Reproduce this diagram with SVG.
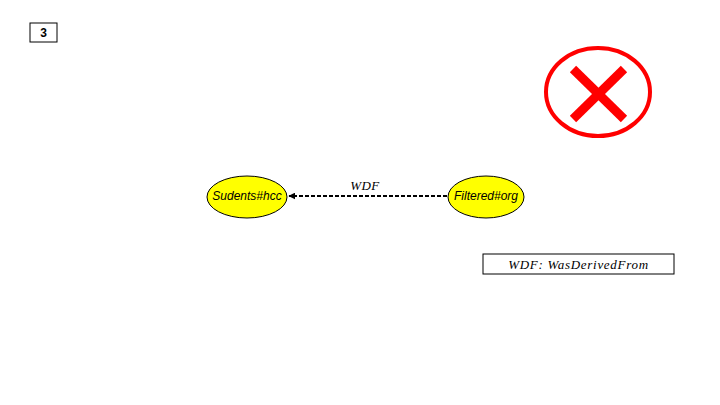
<svg xmlns="http://www.w3.org/2000/svg" width="720" height="405" viewBox="0 0 720 405">
  <defs>
    <marker id="arrow" viewBox="0 0 10 10" refX="9" refY="5" markerWidth="3.5" markerHeight="3.5" orient="auto">
      <path d="M0,0 L10,5 L0,10 z" fill="#000"/>
    </marker>
    <style>
      .node { fill: #ffff00; stroke: #000; stroke-width: 1; }
      .nodeText { font-family: "Liberation Sans", Arial, sans-serif; font-style: italic; font-size: 12px; fill: #000; text-anchor: middle; dominant-baseline: central; }
      .math { font-family: "Liberation Serif", "DejaVu Serif", serif; font-style: italic; font-size: 13px; fill: #000; text-anchor: middle; }
      .edge { stroke: #000; stroke-width: 2; stroke-dasharray: 4 2; fill: none; }
    </style>
  </defs>
  <rect width="720" height="405" fill="#fff"/>

  <!-- slide number -->
  <g id="slide-number">
    <rect x="30" y="23" width="27" height="19" fill="#fff" stroke="#000" stroke-width="1"/>
    <text x="43.5" y="33" font-family="Liberation Sans, Arial, sans-serif" font-weight="bold" font-size="12" text-anchor="middle" dominant-baseline="central">3</text>
  </g>

  <!-- red cross mark -->
  <g id="cross">
    <ellipse cx="598" cy="92" rx="52" ry="44" fill="none" stroke="#ff0000" stroke-width="4"/>
    <line x1="573" y1="69" x2="624" y2="119" stroke="#ff0000" stroke-width="9"/>
    <line x1="624" y1="69" x2="573" y2="119" stroke="#ff0000" stroke-width="9"/>
  </g>

  <!-- connectors -->
  <g id="connectors">
    <line class="edge" x1="447" y1="196" x2="289" y2="196" marker-end="url(#arrow)"/>
    <text class="math" x="365" y="190" letter-spacing="0.5">WDF</text>
  </g>

  <g id="node-students">
    <ellipse class="node" cx="247" cy="197" rx="40" ry="21"/>
    <text class="nodeText" x="247" y="196">Sudents#hcc</text>
  </g>

  <g id="node-filtered">
    <ellipse class="node" cx="486" cy="197" rx="38" ry="21"/>
    <text class="nodeText" x="486" y="196">Filtered#org</text>
  </g>

  <!-- legend -->
  <g id="legend">
    <rect x="483" y="254" width="191" height="20" fill="#fff" stroke="#000" stroke-width="1"/>
    <text class="math" x="578.5" y="269" font-size="15" letter-spacing="0.7">WDF: WasDerivedFrom</text>
  </g>
</svg>
